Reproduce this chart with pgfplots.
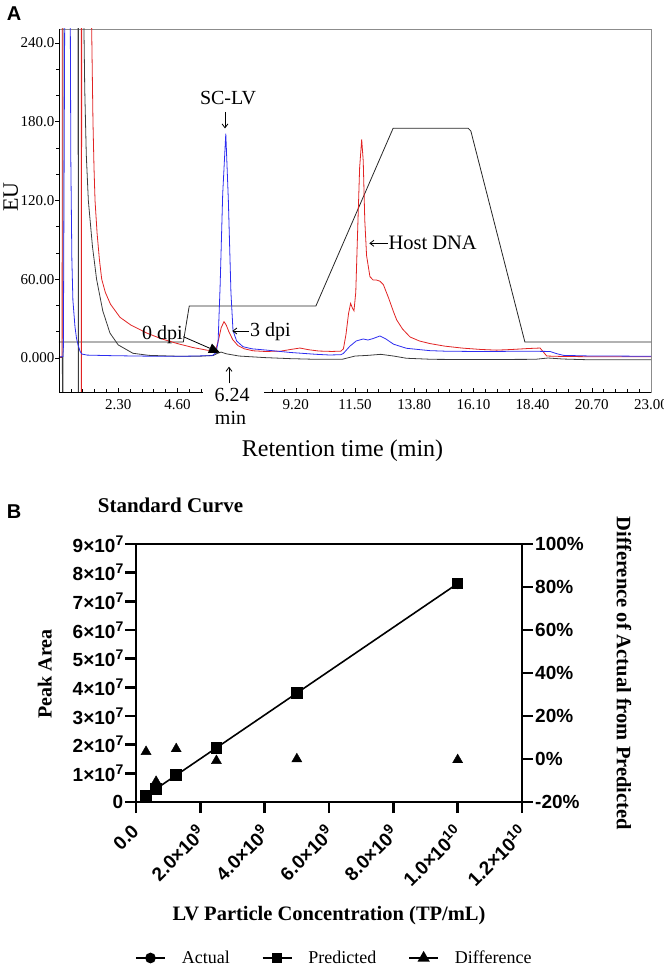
\documentclass[border=0pt]{standalone}
\usepackage{pgfplots}
\pgfplotsset{compat=1.18}
\usepackage{fontspec}
\setmainfont{Liberation Serif}
\newfontfamily\arial{Liberation Sans}
\usetikzlibrary{arrows.meta}
\newcommand\fs[1]{\fontsize{#1}{#1}\selectfont}
% power of ten with a large superscript, as in the reference
\newcommand\tento[1]{10\raisebox{7pt}{\fs{14}#1}}

\definecolor{tracered}{RGB}{225,35,35}
\definecolor{traceblue}{RGB}{45,45,240}
\definecolor{tracegray}{RGB}{60,60,60}

\begin{document}
\begin{tikzpicture}
\useasboundingbox (0pt,0pt) rectangle (664pt,967pt);

% ---------------- panel A: chromatogram ----------------
\begin{axis}[
  at={(59pt,575pt)}, anchor=south west,
  scale only axis, width=592pt, height=363pt,
  xmin=0, xmax=23, ymin=-25.9, ymax=250.7,
  axis line style={draw=black!45, line width=0.8pt},
  tick pos=left,
  xtick align=inside, ytick align=outside,
  xtick={0,2.3,4.6,6.9,9.2,11.5,13.8,16.1,18.4,20.7,23},
  xticklabels={,2.30,4.60,,9.20,11.50,13.80,16.10,18.40,20.70,23.00},
  minor x tick num=4,
  ytick={0,60,120,180,240},
  yticklabels={0.000,60.00,120.0,180.0,240.0},
  minor y tick num=2,
  major tick length=4pt, minor tick length=2.5pt,
  tick style={black, line width=0.6pt},
  ticklabel style={font=\fs{15}},
  xticklabel style={yshift=-4pt},
  yticklabel style={inner sep=0.5pt},
  xlabel={Retention time (min)},
  xlabel style={at={(0.4789,-0.1782)}, anchor=base, font=\fs{24}},
  ylabel={EU},
  ylabel style={at={(-0.0693,0.5372)}, anchor=base, font=\fs{22}},
]
% gradient profile
\addplot[black!85, line width=0.8pt] coordinates {
(0,12.2)(4.83,12.2)(5.06,39.6)(9.98,39.6)(12.98,175)(15.9,175)(16.0,173)(18.1,12.2)(23,12.2)};
% 0 dpi trace
\addplot[tracegray, line width=0.8pt] coordinates {
(0,0.3)(0.13,0.5)(0.14,-60)(0.15,-60)(0.16,300)(0.74,300)(0.75,-60)(0.755,-60)(0.76,300)(0.93,300)
(0.97,250)(1.0,205)(1.06,155)(1.14,120)(1.3,85)(1.46,60)(1.7,36)(1.98,19)(2.3,10)(2.87,3.6)(3.5,2)
(4.5,1.4)(5.5,1.4)(6.0,2)(6.15,3.5)(6.3,4.5)(6.5,3.2)(7.0,1.5)(8.0,0.3)(9.0,-0.5)(10.0,-1)(11.0,-1)
(11.2,0)(11.5,1.5)(12.0,2)(12.5,2.8)(13.0,1.5)(13.5,-0.2)(14.5,-1)(16.0,-1.2)(18.5,-1)(19.0,0)
(19.6,-0.8)(20.5,-1.3)(23,-1.3)};
% 3 dpi trace
\addplot[tracered, line width=0.8pt] coordinates {
(0,0.5)(0.12,0.8)(0.13,300)(0.86,300)(0.87,-60)(0.875,-60)(0.88,300)(1.2,300)(1.27,250)(1.32,180)
(1.36,145)(1.40,120)(1.48,95)(1.57,75)(1.66,60)(1.8,50)(2.0,41)(2.37,31)(2.8,25)(3.41,19)(4.0,14.5)
(4.6,11)(5.2,8)(5.74,6)(6.0,5.5)(6.1,7)(6.2,14)(6.3,23)(6.41,27.7)(6.5,25)(6.6,20)(6.75,14)(6.95,9.5)
(7.2,7)(7.54,5.5)(8.0,5)(8.6,5.2)(9.0,6.5)(9.36,7.6)(9.7,6.3)(10.1,5.3)(10.6,5)(10.95,5.2)(11.05,7)
(11.15,18)(11.25,34)(11.33,41.6)(11.4,38)(11.46,36)(11.53,50)(11.6,95)(11.68,145)(11.76,166.6)
(11.82,150)(11.88,105)(11.95,78)(12.08,62)(12.2,59.5)(12.34,59.4)(12.47,58.5)(12.6,56)(12.8,46)
(13.0,35)(13.12,29)(13.35,22)(13.64,16)(14.0,13)(14.41,11)(15.0,9)(15.7,7.5)(16.4,6.5)(17.0,6)
(17.6,6.5)(18.2,7.2)(18.69,7.6)(18.8,5)(18.95,1.5)(19.5,1.2)(20.5,1)(23,1)};
% SC-LV standard trace
\addplot[traceblue, line width=0.8pt] coordinates {
(0,0.8)(0.15,1)(0.17,8)(0.2,150)(0.23,300)(0.43,300)(0.46,150)(0.5,75)(0.54,44)(0.62,24)(0.68,15)
(0.74,10)(0.82,5)(0.89,3)(1.1,2.2)(2,1.8)(3,1.5)(4,1.3)(5,1.4)(5.95,1.8)(6.1,4)(6.18,12)(6.26,55)
(6.36,125)(6.48,171)(6.58,120)(6.68,50)(6.76,21)(6.9,13)(7.15,8.6)(7.5,7)(8.07,6)(9.0,4.2)(10.0,2.8)
(10.5,2.3)(10.95,2.5)(11.05,3.5)(11.3,9)(11.55,13)(11.82,14.5)(12.0,13.7)(12.2,14.8)(12.47,16.8)
(12.7,14.5)(13.0,10.5)(13.5,7.4)(14.41,5.6)(15.0,5.2)(16.0,5)(17.0,5)(18.0,5.2)(19.07,5)(19.3,3.5)
(19.6,2)(20.5,1.6)(21.5,1.5)(23,1.3)};
\end{axis}
% left and bottom axis lines are black
\draw[black, line width=0.8pt] (59pt,938pt) -- (59pt,575pt) -- (651pt,575pt);
% gap in the x axis under the 6.24 min label
\fill[white] (203pt,570pt) rectangle (264pt,580pt);
\node[font=\fs{20}, anchor=base, inner sep=0pt] at (232pt,565.3pt) {6.24};
\node[font=\fs{20}, anchor=base, inner sep=0pt] at (230.5pt,542pt) {min};
\draw[-{Straight Barb[length=4pt,width=6pt]}, line width=0.8pt] (229pt,583.7pt) -- (229pt,600.3pt);
% peak annotations
\node[font=\fs{20}, anchor=base, inner sep=0pt] at (228pt,862pt) {SC-LV};
\draw[-{Straight Barb[length=4pt,width=6pt]}, line width=0.8pt] (225pt,855pt) -- (225pt,838.5pt);
\draw[-{Straight Barb[length=4pt,width=6pt]}, line width=0.8pt] (249pt,636pt) -- (232.3pt,636pt);
\node[font=\fs{20}, anchor=base west, inner sep=0pt] at (250pt,630.5pt) {3 dpi};
\node[font=\fs{20}, anchor=base west, inner sep=0pt] at (142pt,627.7pt) {0 dpi};
\draw[-{Triangle[length=11pt,width=10pt]}, line width=0.8pt] (183.3pt,630.3pt) -- (220pt,614.3pt);
\draw[-{Straight Barb[length=4pt,width=6pt]}, line width=0.8pt] (387.5pt,723.7pt) -- (369.3pt,723.7pt);
\node[font=\fs{20.5}, anchor=base west, inner sep=0pt] at (388.3pt,717.7pt) {Host DNA};
\node[font=\arial\bfseries\fs{20}, anchor=center, inner sep=0pt] at (14pt,953pt) {A};

% ---------------- panel B: standard curve ----------------
\begin{axis}[
  at={(136pt,165pt)}, anchor=south west,
  scale only axis, width=386pt, height=258pt,
  xmin=0, xmax=1.2e10, ymin=0, ymax=9e7,
  axis line style={line width=2.6pt},
  tick pos=left, tick align=outside,
  major tick length=11pt,
  tick style={black, line width=2.6pt},
  scaled ticks=false,
  xtick={0,2e9,4e9,6e9,8e9,1e10,1.2e10},
  xticklabels={0.0,2.0×\tento{9},4.0×\tento{9},6.0×\tento{9},
    8.0×\tento{9},1.0×\tento{10},1.2×\tento{10}},
  ytick={0,1e7,2e7,3e7,4e7,5e7,6e7,7e7,8e7,9e7},
  yticklabels={0,1×\tento{7},2×\tento{7},3×\tento{7},4×\tento{7},
    5×\tento{7},6×\tento{7},7×\tento{7},8×\tento{7},9×\tento{7}},
  ticklabel style={font=\arial\bfseries\fs{19}},
  xticklabel style={rotate=45, anchor=north east, inner sep=3pt, xshift=-8pt},
  yticklabel style={inner sep=1.5pt},
  title={Standard Curve},
  title style={at={(0.0894,1.0996)}, anchor=base, font=\bfseries\fs{21}},
  xlabel={LV Particle Concentration (TP/mL)},
  xlabel style={at={(0.5,-0.4574)}, anchor=base, font=\bfseries\fs{20.5}},
  ylabel={Peak Area},
  ylabel style={at={(-0.2189,0.4961)}, anchor=base, font=\bfseries\fs{20}},
  legend columns=3,
  legend style={at={(-0.0026,-0.6047)}, anchor=west, draw=none, fill=none,
    inner sep=0pt, font=\fs{18},
    /tikz/every odd column/.append style={column sep=14pt},
    /tikz/every even column/.append style={column sep=30pt}},
  legend image code/.code={\draw[mark repeat=2,mark phase=2,#1]
    plot coordinates {(0pt,0pt) (14.5pt,0pt) (29pt,0pt)};},
]
\addplot[black, only marks, mark=*, mark size=4.5pt, forget plot] coordinates {
(3.125e8,2.28e6)(6.25e8,4.12e6)(1.25e9,9.79e6)(2.5e9,1.875e7)(5e9,3.80e7)(1e10,7.59e7)};
\addplot[black, line width=1.6pt, mark=square*, mark size=5pt, forget plot] coordinates {
(3.125e8,2.2e6)(6.25e8,4.6e6)(1.25e9,9.35e6)(2.5e9,1.89e7)(5e9,3.80e7)(1e10,7.62e7)};
\addlegendimage{black, line width=1.6pt, mark=*, mark size=4.5pt}
\addlegendentry{Actual}
\addlegendimage{black, line width=1.6pt, mark=square*, mark size=4.5pt}
\addlegendentry{Predicted}
\addlegendimage{black, line width=1.6pt, mark=triangle*, mark size=5.5pt}
\addlegendentry{Difference}
\end{axis}

\begin{axis}[
  at={(136pt,165pt)}, anchor=south west,
  scale only axis, width=386pt, height=258pt,
  xmin=0, xmax=1.2e10, ymin=-20, ymax=100,
  axis x line=none, axis y line*=right,
  axis line style={line width=2.6pt},
  tick align=outside,
  major tick length=11pt,
  tick style={black, line width=2.6pt},
  ytick={-20,0,20,40,60,80,100},
  yticklabels={-20\%,0\%,20\%,40\%,60\%,80\%,100\%},
  ticklabel style={font=\arial\bfseries\fs{19}},
  yticklabel style={inner sep=2pt},
  ylabel={Difference of Actual from Predicted},
  every axis y label/.style={at={(1.2461,0.498)}, rotate=-90, anchor=base,
    font=\bfseries\fs{20.5}},
]
\addplot[black, only marks, mark=triangle*, mark size=5.8pt] coordinates {
(3.125e8,3.4)(6.25e8,-10.5)(1.25e9,4.7)(2.5e9,-0.8)(5e9,0.0)(1e10,-0.4)};
\end{axis}
\node[font=\arial\bfseries\fs{20}, anchor=center, inner sep=0pt] at (14pt,455pt) {B};
\end{tikzpicture}
\end{document}
